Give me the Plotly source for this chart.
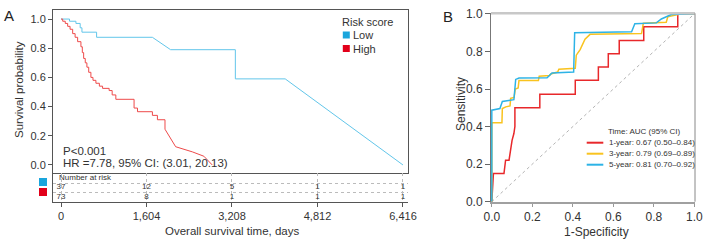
import plotly.graph_objects as go

W, H = 703, 240
FONT = "Liberation Sans, Arial, sans-serif"
TXT = "#333333"

# ---------------- Panel A data (Kaplan-Meier) ----------------
low_t = [0, 160, 280, 360, 393, 668, 1714, 2056, 3271, 4206, 6416]
low_s = [1.0, 0.985, 0.97, 0.94, 0.91, 0.875, 0.875, 0.79, 0.59, 0.59, 0.0]
low_slope = [0, 0, 0, 0, 0, 0, 0, 1, 0, 0, 1]

high_t = [0, 32, 80, 125, 170, 219, 265, 312, 374, 400, 425, 455, 486, 520, 561,
          600, 655, 720, 780, 903, 960, 1029, 1371, 1435, 1715, 1809, 1951,
          2151, 2463, 2680, 2838]
high_s = [1.0, 0.985, 0.97, 0.95, 0.93, 0.90, 0.875, 0.845, 0.81, 0.77, 0.73,
          0.70, 0.67, 0.635, 0.60, 0.58, 0.56, 0.54, 0.525, 0.51, 0.48, 0.45,
          0.39, 0.365, 0.34, 0.31, 0.245, 0.125, 0.09, 0.06, 0.0]
high_slope = [0] * 27 + [1, 1, 1, 1]

risk_ticks = [0, 1604, 3208, 4812, 6416]
risk_low = [37, 12, 5, 1, 1]
risk_high = [73, 8, 1, 1, 1]
y_ticks_a = [0.0, 0.2, 0.4, 0.6, 0.8, 1.0]

# ---------------- Panel B data (ROC) ----------------
fpr1 = [0, 0.008, 0.06, 0.068, 0.085, 0.092, 0.10, 0.109, 0.114, 0.114, 0.237,
        0.237, 0.412, 0.412, 0.526, 0.526, 0.575, 0.575, 0.629, 0.629, 0.75,
        0.75, 0.918, 0.918, 1.0]
tpr1 = [0, 0.15, 0.15, 0.221, 0.221, 0.283, 0.327, 0.363, 0.40, 0.50, 0.50,
        0.572, 0.572, 0.646, 0.646, 0.717, 0.717, 0.788, 0.788, 0.858, 0.858,
        0.932, 0.932, 1.0, 1.0]

fpr3 = [0, 0, 0.05, 0.052, 0.069, 0.09, 0.093, 0.11, 0.116, 0.13, 0.134, 0.23,
        0.234, 0.285, 0.291, 0.325, 0.331, 0.412, 0.417, 0.436, 0.46, 0.485,
        0.739, 0.748, 0.861, 0.869, 0.918, 0.925, 1.0]
tpr3 = [0, 0.42, 0.42, 0.496, 0.505, 0.51, 0.55, 0.555, 0.60, 0.605, 0.645,
        0.645, 0.668, 0.672, 0.68, 0.69, 0.705, 0.71, 0.78, 0.81, 0.865, 0.891,
        0.895, 0.95, 0.955, 0.985, 0.996, 1.0, 1.0]

fpr5 = [0, 0, 0.04, 0.052, 0.109, 0.118, 0.134, 0.273, 0.297, 0.404, 0.409,
        0.69, 0.706, 0.812, 0.837, 0.886, 1.0]
tpr5 = [0, 0.487, 0.496, 0.534, 0.543, 0.651, 0.658, 0.66, 0.685, 0.69, 0.899,
        0.905, 0.947, 0.952, 0.973, 0.996, 1.0]

roc_names = ["1-year: 0.67 (0.50\u20130.84)", "3-year: 0.79 (0.69\u20130.89)",
             "5-year: 0.81 (0.70\u20130.92)"]
roc_colors = ["#e8282b", "#f9c31f", "#2db3e6"]
b_ticks = [0.0, 0.2, 0.4, 0.6, 0.8, 1.0]


def km_xy(t, s, slope):
    xs, ys = [t[0]], [s[0]]
    for i in range(1, len(t)):
        if slope[i]:
            xs.append(t[i]); ys.append(s[i])
        else:
            xs += [t[i], t[i]]; ys += [s[i - 1], s[i]]
    return xs, ys


def px(x):
    return x / W


def py(y):
    return 1 - y / H


fig = go.Figure()

lx, ly = km_xy(low_t, low_s, low_slope)
hx, hy = km_xy(high_t, high_s, high_slope)
fig.add_trace(go.Scatter(x=lx, y=ly, mode="lines", line=dict(color="#62c6ea", width=1),
                         xaxis="x", yaxis="y", showlegend=False, hoverinfo="skip"))
fig.add_trace(go.Scatter(x=hx, y=hy, mode="lines", line=dict(color="#ee4a4a", width=1),
                         xaxis="x", yaxis="y", showlegend=False, hoverinfo="skip"))

# risk table numbers
fig.add_trace(go.Scatter(x=risk_ticks, y=[14] * 5, mode="text", text=[str(v) for v in risk_low],
                         textfont=dict(size=8, color=TXT, family=FONT),
                         xaxis="x3", yaxis="y3", showlegend=False, hoverinfo="skip"))
fig.add_trace(go.Scatter(x=risk_ticks, y=[24] * 5, mode="text", text=[str(v) for v in risk_high],
                         textfont=dict(size=8, color=TXT, family=FONT),
                         xaxis="x3", yaxis="y3", showlegend=False, hoverinfo="skip"))

# ROC
fig.add_trace(go.Scatter(x=[0, 1], y=[0, 1], mode="lines",
                         line=dict(color="#a0a0a0", width=0.8, dash="dot"),
                         xaxis="x2", yaxis="y2", showlegend=False, hoverinfo="skip"))
for fx, ty, c in zip([fpr1, fpr3, fpr5], [tpr1, tpr3, tpr5], roc_colors):
    fig.add_trace(go.Scatter(x=fx, y=ty, mode="lines", line=dict(color=c, width=1.5),
                             xaxis="x2", yaxis="y2", showlegend=False, hoverinfo="skip"))

xa_dom = [53 / W, 408 / W]
xr = [-150, 6510]
tick_font = dict(size=11, color=TXT, family=FONT)

fig.update_layout(
    template="none",
    width=W, height=H, margin=dict(l=0, r=0, t=0, b=0, pad=0, autoexpand=False),
    showlegend=False, hovermode=False,
    paper_bgcolor="white", plot_bgcolor="white",
    font=dict(family=FONT, color=TXT),
    xaxis=dict(domain=xa_dom, range=xr, anchor="y", showticklabels=False, ticks="",
               showline=True, mirror=True, linecolor="#555555", linewidth=1,
               showgrid=False, zeroline=False, automargin=False),
    yaxis=dict(domain=[(H - 173) / H, (H - 10) / H], range=[-0.055, 1.062], anchor="x",
               tickvals=y_ticks_a, tickformat=".1f", ticks="outside", ticklen=4,
               tickcolor="#555555", tickfont=tick_font, showline=True, mirror=True,
               linecolor="#555555", linewidth=1, showgrid=False, zeroline=False,
               automargin=False),
    xaxis3=dict(domain=xa_dom, range=xr, anchor="y3", tickvals=risk_ticks, tickformat=",d",
                ticks="outside", ticklen=4, tickcolor="#555555", tickfont=tick_font,
                showline=True, linecolor="#555555", linewidth=1,
                showgrid=True, gridcolor="#bbbbbb", griddash="dot", gridwidth=1,
                zeroline=False, automargin=False),
    yaxis3=dict(domain=[(H - 202) / H, (H - 173) / H], range=[29, 0], anchor="x3",
                tickvals=[10, 19], showticklabels=False, ticks="",
                showline=True, linecolor="#555555", linewidth=1,
                showgrid=True, gridcolor="#bbbbbb", griddash="dot", gridwidth=1,
                zeroline=False, automargin=False),
    xaxis2=dict(domain=[491 / W, 695 / W], range=[-0.004, 1.003], anchor="y2",
                tickvals=b_ticks, tickformat=".1f", ticks="outside", ticklen=3,
                tickcolor="#999999", tickfont=dict(size=12, color=TXT, family=FONT),
                ticklabeloverflow="allow",
                showline=True, linecolor="#a0a0a0", linewidth=2,
                showgrid=False, zeroline=False, automargin=False),
    yaxis2=dict(domain=[(H - 201.7) / H, (H - 13.3) / H], range=[0, 1.003], anchor="x2",
                tickvals=b_ticks, tickformat=".1f", ticks="outside", ticklen=5,
                tickcolor="#666666", tickfont=dict(size=12, color=TXT, family=FONT),
                showline=True, linecolor="#777777", linewidth=1,
                showgrid=False, zeroline=False, automargin=False),
)

ann = []


def A(x, y, text, size=11, xanchor="center", angle=0, color=TXT, **kw):
    ann.append(dict(x=px(x), y=py(y), xref="paper", yref="paper", text=text,
                    showarrow=False, xanchor=xanchor, yanchor="middle", textangle=angle,
                    font=dict(size=size, color=color, family=FONT), **kw))


A(9, 16, "A", size=15, color="#222222")
A(447.5, 17, "B", size=15, color="#222222")
A(19, 90, "Survival probability", size=11.5, angle=-90)
A(231.5, 231, "Overall survival time, days", size=11.5)
A(461, 104, "Sensitivity", size=12, angle=-90)
A(596.5, 231.5, "1-Specificity", size=12)
A(340, 21.5, "Risk score", size=11, xanchor="left")
A(351, 35, "Low", size=11, xanchor="left")
A(351, 48.5, "High", size=11, xanchor="left")
A(56.5, 177.5, "Number at risk", size=8, xanchor="left")
A(605.5, 131.7, "Time: AUC (95% CI)", size=8, xanchor="left")
for i, name in enumerate(roc_names):
    A(606.5, 142.7 + 11 * i, name, size=8, xanchor="left")

ann.append(dict(x=0, y=0.098, xref="x", yref="y", text="P<0.001", showarrow=False,
                xanchor="left", yanchor="middle", font=dict(size=11.5, color=TXT, family=FONT)))
ann.append(dict(x=0, y=0.012, xref="x", yref="y", text="HR =7.78, 95% CI: (3.01, 20.13)",
                showarrow=False, xanchor="left", yanchor="middle",
                font=dict(size=11.5, color=TXT, family=FONT)))
fig.update_layout(annotations=ann)

shapes = []


def sq(cx, cy, s, color):
    shapes.append(dict(type="rect", xref="paper", yref="paper",
                       x0=px(cx - s / 2), x1=px(cx + s / 2), y0=py(cy + s / 2), y1=py(cy - s / 2),
                       fillcolor=color, line=dict(width=0)))


sq(346.3, 35, 7, "#1aa5dc")
sq(346.3, 48.5, 7, "#e2001a")
sq(43, 182, 8, "#1aa5dc")
sq(43, 192, 8, "#e2001a")
for i, c in enumerate(roc_colors):
    shapes.append(dict(type="line", xref="paper", yref="paper",
                       x0=px(586.7), x1=px(603.3), y0=py(142.7 + 11 * i), y1=py(142.7 + 11 * i),
                       line=dict(color=c, width=2)))
# panel B top and right frame
shapes.append(dict(type="line", xref="x2 domain", yref="y2 domain", x0=0, x1=1, y0=1, y1=1,
                   line=dict(color="#c8c8c8", width=2.5)))
shapes.append(dict(type="line", xref="x2 domain", yref="y2 domain", x0=1, x1=1, y0=0, y1=1,
                   line=dict(color="#888888", width=1)))
fig.update_layout(shapes=shapes)

fig.write_html("out.html", config={"displayModeBar": False, "staticPlot": True},
               post_script="document.body.style.margin='0';document.body.style.overflow='hidden';")
